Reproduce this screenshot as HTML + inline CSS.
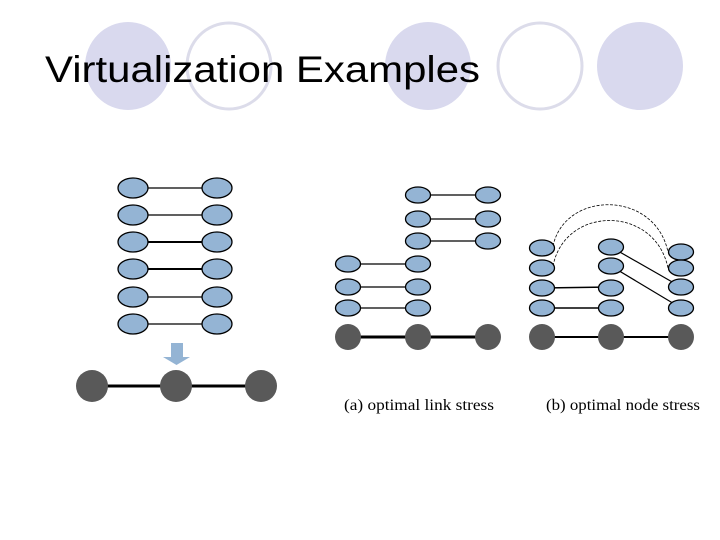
<!DOCTYPE html>
<html><head><style>body{margin:0;background:#fff}svg{display:block}</style></head><body>
<svg width="720" height="540" xmlns="http://www.w3.org/2000/svg">
<g fill="#d9d9ee"><ellipse cx="128" cy="66" rx="43" ry="44"/><ellipse cx="428" cy="66" rx="43" ry="44"/><ellipse cx="640" cy="66" rx="43" ry="44"/></g>
<g fill="none" stroke="#dcdcea" stroke-width="3"><ellipse cx="229" cy="66" rx="42" ry="43"/><ellipse cx="540" cy="66" rx="42" ry="43"/></g>
<text x="45" y="82" font-family="Liberation Sans, sans-serif" font-size="37" fill="#000" textLength="435" lengthAdjust="spacingAndGlyphs">Virtualization Examples</text>
<g stroke="#000" stroke-width="1.2">
<line x1="133" y1="188" x2="217" y2="188"/><line x1="133" y1="215" x2="217" y2="215"/><line x1="133" y1="242" x2="217" y2="242" stroke-width="2"/><line x1="133" y1="269" x2="217" y2="269" stroke-width="2"/><line x1="133" y1="297" x2="217" y2="297"/><line x1="133" y1="324" x2="217" y2="324"/>
<line x1="92" y1="386" x2="261" y2="386" stroke-width="3"/>
<line x1="418" y1="195" x2="488" y2="195"/><line x1="418" y1="219" x2="488" y2="219"/><line x1="418" y1="241" x2="488" y2="241"/>
<line x1="348" y1="264" x2="418" y2="264"/><line x1="348" y1="287" x2="418" y2="287"/><line x1="348" y1="308" x2="418" y2="308"/>
<line x1="348" y1="337" x2="488" y2="337" stroke-width="3"/>
<line x1="542" y1="288" x2="611" y2="287" stroke-width="1.6"/><line x1="542" y1="308" x2="611" y2="308" stroke-width="1.6"/>
<line x1="611" y1="247" x2="681" y2="287"/><line x1="611" y1="266" x2="681" y2="308"/>
<line x1="542" y1="337" x2="681" y2="337" stroke-width="2"/>
</g>
<g fill="none" stroke="#000" stroke-width="0.8" stroke-dasharray="3,1.5">
<path d="M553 246 C565 190 655 190 668 252"/><path d="M553 266 C565 205 655 205 668 268"/>
</g>
<g fill="#94b4d4" stroke="#000" stroke-width="1.3">
<ellipse cx="133" cy="188" rx="15" ry="10"/><ellipse cx="217" cy="188" rx="15" ry="10"/>
<ellipse cx="133" cy="215" rx="15" ry="10"/><ellipse cx="217" cy="215" rx="15" ry="10"/>
<ellipse cx="133" cy="242" rx="15" ry="10"/><ellipse cx="217" cy="242" rx="15" ry="10"/>
<ellipse cx="133" cy="269" rx="15" ry="10"/><ellipse cx="217" cy="269" rx="15" ry="10"/>
<ellipse cx="133" cy="297" rx="15" ry="10"/><ellipse cx="217" cy="297" rx="15" ry="10"/>
<ellipse cx="133" cy="324" rx="15" ry="10"/><ellipse cx="217" cy="324" rx="15" ry="10"/>
<ellipse cx="418" cy="195" rx="12.5" ry="8"/><ellipse cx="488" cy="195" rx="12.5" ry="8"/>
<ellipse cx="418" cy="219" rx="12.5" ry="8"/><ellipse cx="488" cy="219" rx="12.5" ry="8"/>
<ellipse cx="418" cy="241" rx="12.5" ry="8"/><ellipse cx="488" cy="241" rx="12.5" ry="8"/>
<ellipse cx="348" cy="264" rx="12.5" ry="8"/><ellipse cx="418" cy="264" rx="12.5" ry="8"/>
<ellipse cx="348" cy="287" rx="12.5" ry="8"/><ellipse cx="418" cy="287" rx="12.5" ry="8"/>
<ellipse cx="348" cy="308" rx="12.5" ry="8"/><ellipse cx="418" cy="308" rx="12.5" ry="8"/>
<ellipse cx="542" cy="248" rx="12.5" ry="8"/><ellipse cx="542" cy="268" rx="12.5" ry="8"/><ellipse cx="542" cy="288" rx="12.5" ry="8"/><ellipse cx="542" cy="308" rx="12.5" ry="8"/>
<ellipse cx="611" cy="247" rx="12.5" ry="8"/><ellipse cx="611" cy="266" rx="12.5" ry="8"/><ellipse cx="611" cy="288" rx="12.5" ry="8"/><ellipse cx="611" cy="308" rx="12.5" ry="8"/>
<ellipse cx="681" cy="252" rx="12.5" ry="8"/><ellipse cx="681" cy="268" rx="12.5" ry="8"/><ellipse cx="681" cy="287" rx="12.5" ry="8"/><ellipse cx="681" cy="308" rx="12.5" ry="8"/>
</g>
<g fill="#595959">
<circle cx="92" cy="386" r="16"/><circle cx="176" cy="386" r="16"/><circle cx="261" cy="386" r="16"/>
<circle cx="348" cy="337" r="13"/><circle cx="418" cy="337" r="13"/><circle cx="488" cy="337" r="13"/>
<circle cx="542" cy="337" r="13"/><circle cx="611" cy="337" r="13"/><circle cx="681" cy="337" r="13"/>
</g>
<polygon points="171,343 183,343 183,357 190,357 176.5,365 163,357 171,357" fill="#94b4d4"/>
<g font-family="Liberation Serif, serif" font-size="15.5" fill="#000">
<text x="344" y="410" textLength="150" lengthAdjust="spacingAndGlyphs">(a) optimal link stress</text>
<text x="546" y="410" textLength="154" lengthAdjust="spacingAndGlyphs">(b) optimal node stress</text>
</g>
</svg>
</body></html>
